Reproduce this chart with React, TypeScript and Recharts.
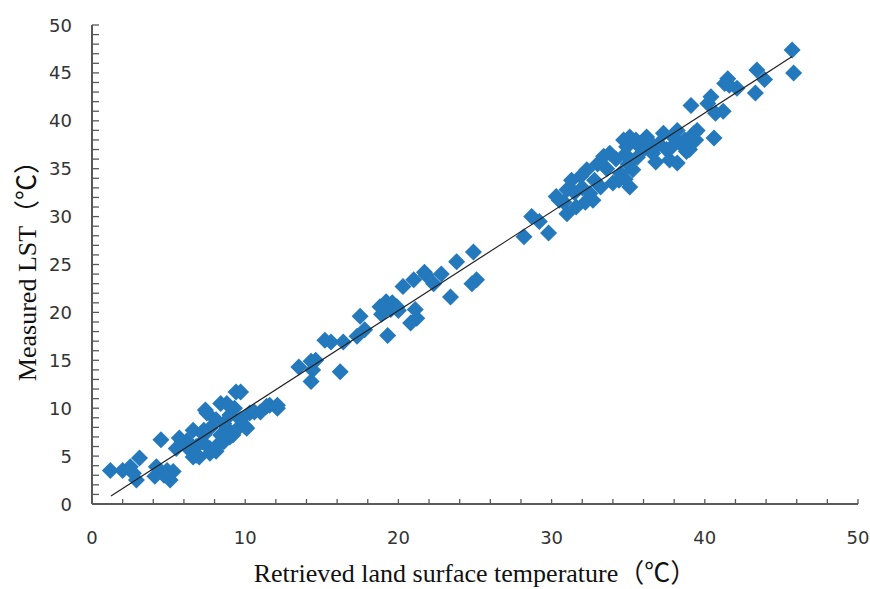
import { ScatterChart, Scatter, XAxis, YAxis, Label } from 'recharts';

const coolRetrieved = [1.2, 2.0, 2.7, 3.1, 2.9, 2.5, 4.1, 4.2, 4.5, 4.7, 5.1, 5.3, 4.9, 5.5, 5.7, 5.9, 6.2, 6.6, 6.8, 6.6, 6.8, 7.3, 7.3, 7.4, 7.5, 7.0, 7.7, 7.7, 7.7, 8.1, 8.1, 8.1, 8.4, 8.6, 8.6, 8.8, 8.8, 9.0, 9.0, 9.2, 9.4, 9.7, 9.4, 9.7, 10.0, 10.1, 10.3, 11.0, 11.4, 11.6, 12.1, 12.1, 6.4, 7.2, 8.4, 9.3, 10.6];
const coolMeasured = [3.5, 3.5, 3.2, 4.8, 2.5, 3.9, 2.9, 3.9, 6.7, 3.0, 2.5, 3.4, 3.5, 5.8, 6.9, 6.5, 6.6, 4.9, 5.1, 7.7, 6.0, 7.2, 7.7, 9.8, 9.5, 4.9, 5.3, 5.8, 7.9, 6.0, 5.5, 8.8, 10.5, 8.4, 6.5, 7.9, 10.5, 7.0, 9.3, 7.2, 11.7, 11.7, 7.7, 8.8, 8.1, 7.9, 9.5, 9.6, 10.2, 10.3, 10.0, 10.3, 5.6, 6.5, 7.2, 10.0, 9.6];

const mildRetrieved = [13.5, 14.3, 14.4, 14.3, 14.6, 16.2, 15.2, 15.6, 16.4, 17.3, 17.5, 17.8, 18.8, 18.9, 19.2, 19.5, 19.6, 19.9, 20.0, 19.3, 20.8, 21.1, 21.2, 20.3, 21.0, 21.7, 21.8, 22.3, 22.8, 23.4, 23.8, 24.9, 24.8, 25.1];
const mildMeasured = [14.3, 14.9, 14.0, 12.8, 15.0, 13.8, 17.1, 16.9, 16.9, 17.5, 19.6, 18.2, 20.6, 19.8, 21.1, 20.3, 21.0, 20.6, 20.2, 17.6, 18.9, 20.3, 19.4, 22.7, 23.4, 24.2, 23.9, 23.0, 24.0, 21.6, 25.3, 26.3, 23.0, 23.4];

const warmRetrieved = [28.2, 28.7, 29.2, 29.8, 30.3, 30.5, 30.8, 31.0, 31.0, 31.3, 31.5, 31.6, 31.9, 32.0, 32.2, 32.3, 32.5, 32.7, 32.8, 33.0, 33.2, 33.4, 33.6, 33.8, 34.0, 34.2, 34.4, 34.5, 34.7, 34.8, 34.8, 34.9, 35.0, 35.1, 35.1, 35.3, 35.5, 35.6, 35.8, 36.0, 36.2, 36.4, 36.6, 36.8, 37.0, 37.3, 37.5, 37.7, 37.8, 38.0, 38.2, 38.2, 38.4, 38.7, 38.8, 39.0, 39.1, 39.3, 39.4, 39.5, 40.2, 40.4, 40.6, 40.7, 41.2, 41.3, 41.5, 41.6, 42.1, 43.3, 43.4, 43.9, 45.7, 45.8];
const warmMeasured = [27.9, 30.0, 29.5, 28.3, 32.1, 31.7, 31.5, 32.8, 30.3, 33.8, 32.5, 31.0, 34.2, 33.0, 31.5, 34.9, 32.4, 31.7, 33.8, 35.5, 33.1, 36.3, 35.0, 36.6, 33.5, 36.0, 33.8, 34.5, 38.0, 36.5, 33.9, 37.3, 35.5, 33.1, 38.3, 34.9, 38.0, 36.2, 37.2, 37.0, 38.3, 37.8, 36.6, 35.7, 37.6, 38.7, 37.0, 35.9, 37.2, 38.2, 39.0, 35.6, 37.6, 38.0, 36.8, 37.0, 41.6, 38.7, 38.0, 39.0, 41.8, 42.5, 38.2, 40.8, 41.0, 43.9, 44.4, 43.7, 43.4, 42.9, 45.3, 44.3, 47.4, 45.0];

// linear fit endpoints
const trendRetrieved = [1.24, 45.7];
const trendMeasured = [0.84, 46.7];

const xTicks = [0, 2, 4, 6, 8, 10, 12, 14, 16, 18, 20, 22, 24, 26, 28, 30, 32, 34, 36, 38, 40, 42, 44, 46, 48, 50];
const yTicks = Array.from({ length: 51 }, (_, i) => i);

const zip = (xs: number[], ys: number[]) => xs.map((x, i) => ({ x, y: ys[i] }));

const points = [
  ...zip(coolRetrieved, coolMeasured),
  ...zip(mildRetrieved, mildMeasured),
  ...zip(warmRetrieved, warmMeasured),
];
const trend = zip(trendRetrieved, trendMeasured);

const BLUE = '#2479BD';
const FRAME = '#595959';
const tickFont = '"DejaVu Sans", sans-serif';
const titleFont = '"Liberation Serif", "Times New Roman", "Noto Sans CJK SC", serif';

const Diamond = ({ cx, cy }: any) => {
  const r = 8.5;
  return <polygon points={`${cx},${cy - r} ${cx + r},${cy} ${cx},${cy + r} ${cx - r},${cy}`} fill={BLUE} />;
};

const NoDot = () => <g />;

// bottom axis: inward tick every 2, label every 10
const XTick = ({ x, y, payload }: any) => (
  <g>
    <line x1={x} y1={y} x2={x} y2={y - 5} stroke={FRAME} strokeWidth={1.3} />
    {payload.value % 10 === 0 && (
      <text x={x} y={y + 33} textAnchor="middle" dominantBaseline="central" fontSize={18} fontFamily={tickFont} fill="#333">
        {payload.value}
      </text>
    )}
  </g>
);

// left axis: inward tick every 1, label every 5
const YTick = ({ x, y, payload }: any) => (
  <g>
    <line x1={x} y1={y} x2={x + 7} y2={y} stroke={FRAME} strokeWidth={1.3} />
    {payload.value % 5 === 0 && (
      <text x={x - 20} y={y} textAnchor="end" dominantBaseline="central" fontSize={18} fontFamily={tickFont} fill="#333">
        {payload.value}
      </text>
    )}
  </g>
);

const XTitle = ({ viewBox }: any) => (
  <text
    x={viewBox.x + viewBox.width / 2}
    y={viewBox.y + 69}
    textAnchor="middle"
    dominantBaseline="central"
    fontSize={26}
    fontFamily={titleFont}
    fill="#111"
  >
    Retrieved land surface temperature（℃）
  </text>
);

const YTitle = ({ viewBox }: any) => {
  const cx = viewBox.x + 27;
  const cy = viewBox.y + viewBox.height / 2;
  return (
    <text
      x={cx}
      y={cy}
      transform={`rotate(-90 ${cx} ${cy})`}
      textAnchor="middle"
      dominantBaseline="central"
      fontSize={26}
      fontFamily={titleFont}
      fill="#111"
    >
      Measured LST（℃）
    </text>
  );
};

export default function App() {
  return (
    <div style={{ position: 'absolute', left: 0, top: 0, width: 870, height: 589, background: '#fff' }}>
      <ScatterChart width={870} height={589} margin={{ top: 25, right: 12, left: 0, bottom: 0 }}>
        <XAxis
          type="number"
          dataKey="x"
          domain={[0, 50]}
          ticks={xTicks}
          interval={0}
          height={85}
          tickSize={0}
          tickMargin={0}
          axisLine={{ stroke: FRAME, strokeWidth: 2 }}
          tick={<XTick />}
        >
          <Label content={<XTitle />} />
        </XAxis>
        <XAxis
          xAxisId="top"
          orientation="top"
          type="number"
          domain={[0, 50]}
          height={0}
          tick={false}
          tickLine={false}
          axisLine={{ stroke: FRAME, strokeWidth: 2 }}
        />
        <YAxis
          type="number"
          dataKey="y"
          domain={[0, 50]}
          ticks={yTicks}
          interval={0}
          width={92}
          tickSize={0}
          tickMargin={0}
          axisLine={{ stroke: FRAME, strokeWidth: 2 }}
          tick={<YTick />}
        >
          <Label content={<YTitle />} />
        </YAxis>
        <YAxis
          yAxisId="right"
          orientation="right"
          type="number"
          domain={[0, 50]}
          width={0}
          tick={false}
          tickLine={false}
          axisLine={{ stroke: FRAME, strokeWidth: 2 }}
        />
        <Scatter data={points} shape={<Diamond />} isAnimationActive={false} />
        <Scatter data={trend} line={{ stroke: '#222', strokeWidth: 1.2 }} shape={<NoDot />} isAnimationActive={false} />
      </ScatterChart>
    </div>
  );
}
